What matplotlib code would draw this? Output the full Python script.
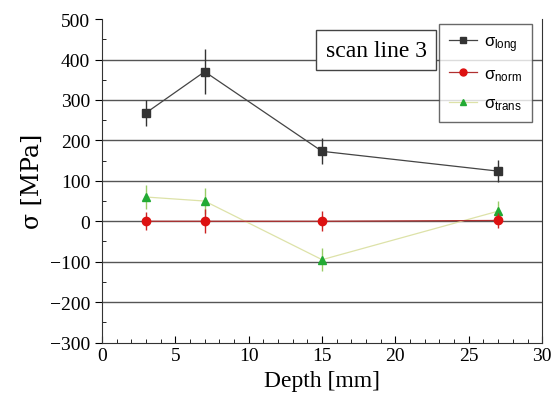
import numpy as np
import matplotlib
matplotlib.use('Agg')
import matplotlib.pyplot as plt
from matplotlib.ticker import MultipleLocator
from matplotlib.lines import Line2D

plt.rcParams['font.family'] = ['Liberation Serif', 'DejaVu Serif']
plt.rcParams['mathtext.fontset'] = 'custom'
plt.rcParams['mathtext.rm'] = 'Liberation Sans'
plt.rcParams['mathtext.it'] = 'Liberation Sans'

# depth positions along scan line 3
depth = [3, 7, 15, 27]

# stress components and their errors
s_long = [268, 370, 173, 124]
e_long = [33, 56, 32, 27]
s_norm = [0, 0, 0, 2]
e_norm = [22, 30, 25, 18]
s_trans = [60, 50, -95, 25]
e_trans = [30, 32, 28, 25]

fig = plt.figure(figsize=(5.51, 4.10), dpi=100)
ax = fig.add_axes([0.185, 0.162, 0.799, 0.789])

for y in range(-200, 500, 100):
    ax.axhline(y, color='#555555', lw=1.0, zorder=1)

styles = [
    (s_long, e_long, '#444444', 's', '#333333', '#333333', r'$\sigma_{\mathrm{long}}$', 4),
    (s_norm, e_norm, '#b03030', 'o', '#dd1111', '#cc2222', r'$\sigma_{\mathrm{norm}}$', 5),
    (s_trans, e_trans, '#dde2a8', '^', '#22aa33', '#99cc66', r'$\sigma_{\mathrm{trans}}$', 3),
]
handles = []
for vals, errs, lc, mk, mc, ec, lab, z in styles:
    ax.errorbar(depth, vals, yerr=errs, color=lc, lw=0.9, marker=mk, ms=6,
                mfc=mc, mec=mc, ecolor=ec, elinewidth=1.0, capsize=0, zorder=z)
    handles.append(Line2D([], [], color=lc, lw=0.9, marker=mk, ms=5,
                          mfc=mc, mec=mc, label=lab))

ax.set_xlim(0, 30)
ax.set_ylim(-300, 500)
ax.xaxis.set_major_locator(MultipleLocator(5))
ax.xaxis.set_minor_locator(MultipleLocator(1))
ax.yaxis.set_major_locator(MultipleLocator(100))
ax.yaxis.set_minor_locator(MultipleLocator(50))
ax.tick_params(axis='x', which='both', direction='in', top=False, labelsize=14)
ax.tick_params(axis='x', which='major', length=5)
ax.tick_params(axis='x', which='minor', length=3)
ax.tick_params(axis='y', which='major', direction='out', length=5, labelsize=14)
ax.tick_params(axis='y', which='minor', direction='in', length=3)
for sp in ax.spines.values():
    sp.set_color('#333333')
ax.spines['top'].set_visible(False)

ax.set_xlabel('Depth [mm]', fontsize=17, labelpad=4)
ax.set_ylabel('σ [MPa]', fontsize=17, labelpad=4, family=['DejaVu Serif'])

ax.text(0.623, 0.904, 'scan line 3', transform=ax.transAxes, fontsize=17,
        ha='center', va='center', zorder=6,
        bbox=dict(boxstyle='square,pad=0.4', fc='white', ec='#444444', lw=1.0))

leg = ax.legend(handles=handles, loc='upper right', bbox_to_anchor=(0.977, 0.985),
                fontsize=12, frameon=True, fancybox=False, edgecolor='#444444',
                handlelength=1.7, labelspacing=0.75, borderpad=0.6,
                handletextpad=0.4, borderaxespad=0)
leg.get_frame().set_linewidth(1.0)
leg.set_zorder(7)

fig.savefig('out.png', dpi=100)
